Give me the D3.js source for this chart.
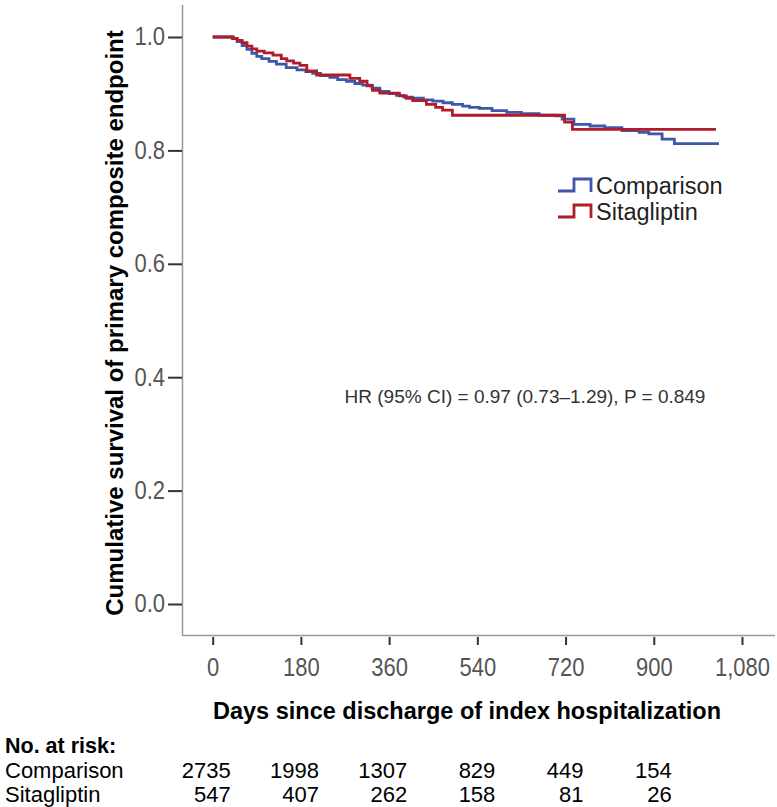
<!DOCTYPE html>
<html>
<head>
<meta charset="utf-8">
<style>
  body { margin: 0; background: #fff; }
  svg { display: block; font-family: "Liberation Sans", Arial, sans-serif; }
</style>
<script src="https://cdn.jsdelivr.net/npm/d3@7"></script>
</head>
<body>
<svg id="km" width="777" height="807"></svg>
<script>
// survival curves (day, cumulative survival)
var comparisonDays = [0, 30, 40, 50, 60, 70, 80, 90, 100, 115, 130, 150, 172, 190, 204, 220, 239, 255, 273, 290, 306, 325, 341, 360, 375, 390, 408, 430, 449, 470, 489, 510, 524, 544, 570, 600, 630, 666, 700, 713, 737, 770, 800, 835, 870, 890, 917, 942, 1033];
var comparisonSurv = [1.0, 1.0, 0.997, 0.992, 0.985, 0.978, 0.971, 0.966, 0.962, 0.957, 0.952, 0.946, 0.942, 0.939, 0.936, 0.932, 0.929, 0.925, 0.922, 0.918, 0.915, 0.910, 0.904, 0.900, 0.897, 0.894, 0.892, 0.889, 0.887, 0.884, 0.881, 0.878, 0.876, 0.874, 0.870, 0.867, 0.865, 0.862, 0.861, 0.855, 0.846, 0.843, 0.840, 0.835, 0.832, 0.829, 0.820, 0.812, 0.812];
var sitaDays = [0, 35, 42, 50, 60, 70, 80, 90, 105, 123, 140, 151, 165, 178, 192, 212, 280, 300, 315, 326, 341, 381, 395, 408, 436, 455, 469, 489, 713, 718, 734, 1027];
var sitaSurv = [1.0, 1.0, 0.997, 0.994, 0.990, 0.984, 0.979, 0.975, 0.972, 0.968, 0.962, 0.958, 0.954, 0.950, 0.940, 0.933, 0.927, 0.922, 0.914, 0.906, 0.901, 0.896, 0.892, 0.888, 0.881, 0.876, 0.871, 0.862, 0.862, 0.850, 0.837, 0.837];

var xTicks = [0, 180, 360, 540, 720, 900, 1080];
var yTicks = [0, 0.2, 0.4, 0.6, 0.8, 1.0];

var groups = ["Comparison", "Sitagliptin"];
var groupColors = ["#3e57aa", "#b01c2a"];
var riskDays = [0, 180, 360, 540, 720, 900];
var riskComparison = [2735, 1998, 1307, 829, 449, 154];
var riskSitagliptin = [547, 407, 262, 158, 81, 26];

var hrText = "HR (95% CI) = 0.97 (0.73\u20131.29), P = 0.849";

var svg = d3.select("#km");

var x = d3.scaleLinear().domain([0, 1080]).range([212.7, 742]);
var y = d3.scaleLinear().domain([0, 1]).range([604, 37]);

// frame lines (axis lines run past the tick range, like SPSS)
svg.append("line")
  .attr("x1", 182.5).attr("x2", 182.5).attr("y1", 5).attr("y2", 636)
  .attr("stroke", "#999").attr("stroke-width", 1.5);
svg.append("line")
  .attr("x1", 182).attr("x2", 775).attr("y1", 635.5).attr("y2", 635.5)
  .attr("stroke", "#999").attr("stroke-width", 1.5);

// y axis
var yAxis = svg.append("g")
  .attr("transform", "translate(182,0)")
  .call(d3.axisLeft(y).tickValues(yTicks).tickSize(14).tickPadding(3).tickFormat(d3.format(".1f")));
yAxis.select(".domain").remove();
yAxis.selectAll(".tick line").attr("stroke", "#333").attr("stroke-width", 2);
yAxis.selectAll(".tick text")
  .attr("fill", "#555").style("font-size", "22px")
  .attr("dy", "0.3em")
  .attr("transform", "scale(1,1.2)");

// x axis
var xAxis = svg.append("g")
  .attr("transform", "translate(0,637)")
  .call(d3.axisBottom(x).tickValues(xTicks).tickSize(8).tickPadding(10).tickFormat(d3.format(",")));
xAxis.select(".domain").remove();
xAxis.selectAll(".tick line").attr("stroke", "#333").attr("stroke-width", 2);
xAxis.selectAll(".tick text")
  .attr("fill", "#555").style("font-size", "22px")
  .attr("y", 17)
  .attr("transform", "scale(1,1.2)");

// axis titles
svg.append("text")
  .attr("transform", "translate(123,323) rotate(-90)")
  .attr("text-anchor", "middle")
  .style("font-size", "24px").style("font-weight", "bold")
  .text("Cumulative survival of primary composite endpoint");
svg.append("text")
  .attr("x", 467).attr("y", 719)
  .attr("text-anchor", "middle")
  .style("font-size", "23.5px").style("font-weight", "bold")
  .text("Days since discharge of index hospitalization");

// curves
var line = d3.line()
  .x(function(d) { return x(d[0]); })
  .y(function(d) { return y(d[1]); })
  .curve(d3.curveStepAfter);

var series = [
  d3.zip(comparisonDays, comparisonSurv),
  d3.zip(sitaDays, sitaSurv)
];
series.forEach(function(pts, i) {
  svg.append("path")
    .attr("d", line(pts))
    .attr("fill", "none")
    .attr("stroke", groupColors[i])
    .attr("stroke-width", 2.8);
});

// legend
groups.forEach(function(name, i) {
  var ly = 186 + i * 26;
  svg.append("path")
    .attr("d", "M558," + (ly + 5) + "H574V" + (ly - 7) + "H591V" + (ly + 6))
    .attr("fill", "none")
    .attr("stroke", groupColors[i])
    .attr("stroke-width", 2.8);
  svg.append("text")
    .attr("x", 596).attr("y", ly)
    .attr("dy", "0.35em")
    .attr("fill", "#222")
    .style("font-size", "23.5px")
    .text(name);
});

// hazard ratio note
svg.append("text")
  .attr("x", 525).attr("y", 396)
  .attr("dy", "0.35em")
  .attr("text-anchor", "middle")
  .attr("fill", "#333")
  .style("font-size", "19px")
  .text(hrText);

// numbers at risk
svg.append("text")
  .attr("x", 5).attr("y", 753)
  .style("font-size", "21.5px").style("font-weight", "bold")
  .text("No. at risk:");

var riskRows = [riskComparison, riskSitagliptin];
riskRows.forEach(function(row, i) {
  var ry = 778 + i * 24;
  svg.append("text")
    .attr("x", 5).attr("y", ry)
    .style("font-size", "22px")
    .text(groups[i]);
  svg.selectAll(null)
    .data(row)
    .enter().append("text")
    .attr("x", function(d, j) { return x(riskDays[j]) + 18; })
    .attr("y", ry)
    .attr("text-anchor", "end")
    .style("font-size", "22px")
    .text(function(d) { return d; });
});
</script>
</body>
</html>
